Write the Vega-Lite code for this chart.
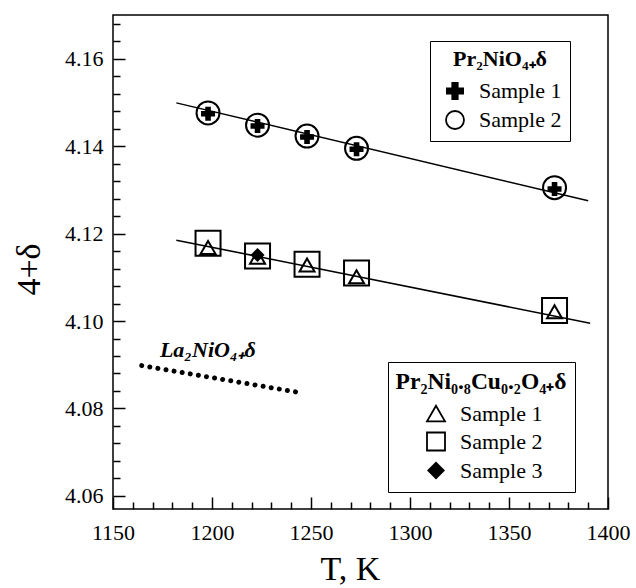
{
  "$schema": "https://vega.github.io/schema/vega-lite/v6.json",
  "width": 495,
  "height": 494,
  "autosize": {"type": "none"},
  "padding": {"left": 113, "top": 15, "right": 28, "bottom": 79},
  "background": "white",
  "config": {
    "view": {"stroke": "black", "strokeWidth": 1.5},
    "font": "Liberation Serif",
    "axis": {
      "grid": false,
      "domain": false,
      "labelFont": "Liberation Serif",
      "labelFontSize": 22,
      "labelColor": "black",
      "titleFont": "Liberation Serif",
      "titleFontSize": 34,
      "titleFontWeight": "normal",
      "titleColor": "black",
      "tickColor": "black",
      "tickWidth": 1.5
    },
    "legend": {
      "titleFont": "Liberation Serif",
      "titleFontSize": 22,
      "titleFontWeight": "bold",
      "titleColor": "black",
      "titleAnchor": "middle",
      "labelFont": "Liberation Serif",
      "labelFontSize": 22,
      "labelColor": "black",
      "symbolSize": 324,
      "symbolStrokeWidth": 1.8,
      "symbolOpacity": 1,
      "strokeColor": "black",
      "fillColor": "white",
      "padding": 8,
      "rowPadding": 3,
      "titlePadding": 9,
      "labelOffset": 13,
      "symbolOffset": 6
    }
  },
  "layer": [
    {
      "data": {"values": [
        {"g": "Pr2NiO4", "T": 1182, "d": 4.1499},
        {"g": "Pr2NiO4", "T": 1390, "d": 4.1275},
        {"g": "Pr2Ni0.8Cu0.2O4", "T": 1182, "d": 4.1185},
        {"g": "Pr2Ni0.8Cu0.2O4", "T": 1391, "d": 4.0995}
      ]},
      "mark": {"type": "line", "color": "black", "strokeWidth": 1.5},
      "encoding": {
        "x": {"field": "T", "type": "quantitative", "scale": {"domain": [1150, 1400], "nice": false, "zero": false},
          "axis": {"orient": "bottom", "title": "T, K", "titlePadding": 9, "titleX": 237, "values": [1150, 1200, 1250, 1300, 1350, 1400], "format": "d", "tickSize": -12, "labelPadding": 25, "labelFlush": false}},
        "y": {"field": "d", "type": "quantitative", "scale": {"domain": [4.057, 4.17], "nice": false, "zero": false},
          "axis": {"orient": "left", "title": "4+δ", "titlePadding": 18, "titleY": 254, "values": [4.06, 4.08, 4.1, 4.12, 4.14, 4.16], "format": ".2f", "tickSize": -12, "labelPadding": 22, "labelFlush": false}},
        "detail": {"field": "g"}
      }
    },
    {
      "data": {"values": [
        {"T": 1164.5, "d": 4.0898},
        {"T": 1246, "d": 4.0835}
      ]},
      "mark": {"type": "line", "color": "black", "strokeWidth": 5, "strokeDash": [0.01, 8.2], "strokeCap": "round"},
      "encoding": {
        "x": {"field": "T", "type": "quantitative", "scale": {"domain": [1150, 1400], "nice": false, "zero": false},
          "axis": {"orient": "bottom", "title": null, "labels": false, "values": [1160,1170,1180,1190,1210,1220,1230,1240,1260,1270,1280,1290,1310,1320,1330,1340,1360,1370,1380,1390], "tickSize": -7}},
        "y": {"field": "d", "type": "quantitative", "scale": {"domain": [4.057, 4.17], "nice": false, "zero": false},
          "axis": {"orient": "left", "title": null, "labels": false, "values": [4.064,4.068,4.072,4.076,4.084,4.088,4.092,4.096,4.104,4.108,4.112,4.116,4.124,4.128,4.132,4.136,4.144,4.148,4.152,4.156,4.164,4.168], "tickSize": -7}}
      }
    },
    {
      "data": {"values": [
        {"T": 1173.7, "d": 4.0918, "label": "La₂NiO₄₊δ"}
      ]},
      "mark": {"type": "text", "font": "Liberation Serif", "fontSize": 22, "fontWeight": "bold", "fontStyle": "italic", "align": "left", "baseline": "alphabetic", "color": "black"},
      "encoding": {
        "x": {"field": "T", "type": "quantitative", "scale": {"domain": [1150, 1400], "nice": false, "zero": false}, "axis": null},
        "y": {"field": "d", "type": "quantitative", "scale": {"domain": [4.057, 4.17], "nice": false, "zero": false}, "axis": null},
        "text": {"field": "label"}
      }
    },
    {
      "data": {"values": [
        {"sample": "Sample 2", "T": 1198, "d": 4.1476},
        {"sample": "Sample 2", "T": 1223, "d": 4.1448},
        {"sample": "Sample 2", "T": 1248, "d": 4.1423},
        {"sample": "Sample 2", "T": 1273, "d": 4.1395},
        {"sample": "Sample 2", "T": 1373, "d": 4.1305},
        {"sample": "Sample 1", "T": 1198, "d": 4.1474},
        {"sample": "Sample 1", "T": 1223, "d": 4.1446},
        {"sample": "Sample 1", "T": 1248, "d": 4.1421},
        {"sample": "Sample 1", "T": 1273, "d": 4.1393},
        {"sample": "Sample 1", "T": 1373, "d": 4.1302}
      ]},
      "mark": {"type": "point", "filled": true, "opacity": 1, "strokeWidth": 2},
      "encoding": {
        "x": {"field": "T", "type": "quantitative", "scale": {"domain": [1150, 1400], "nice": false, "zero": false}, "axis": null},
        "y": {"field": "d", "type": "quantitative", "scale": {"domain": [4.057, 4.17], "nice": false, "zero": false}, "axis": null},
        "shape": {"field": "sample", "type": "nominal", "scale": {"domain": ["Sample 1", "Sample 2"], "range": ["cross", "circle"]},
          "legend": {"title": "Pr₂NiO₄₊δ", "orient": "none", "legendX": 317, "legendY": 26}},
        "fill": {"field": "sample", "type": "nominal", "scale": {"domain": ["Sample 1", "Sample 2"], "range": ["black", "transparent"]},
          "legend": {"title": "Pr₂NiO₄₊δ", "orient": "none", "legendX": 317, "legendY": 26}},
        "stroke": {"field": "sample", "type": "nominal", "scale": {"domain": ["Sample 1", "Sample 2"], "range": ["transparent", "black"]},
          "legend": {"title": "Pr₂NiO₄₊δ", "orient": "none", "legendX": 317, "legendY": 26}},
        "size": {"condition": {"test": "datum.sample === 'Sample 1'", "value": 196}, "value": 529}
      }
    },
    {
      "data": {"values": [
        {"sample": "Sample 2", "T": 1198, "d": 4.1178},
        {"sample": "Sample 2", "T": 1223, "d": 4.1149},
        {"sample": "Sample 2", "T": 1248, "d": 4.1130},
        {"sample": "Sample 2", "T": 1273, "d": 4.1110},
        {"sample": "Sample 2", "T": 1373, "d": 4.1024},
        {"sample": "Sample 3", "T": 1223, "d": 4.1151},
        {"sample": "Sample 1", "T": 1198, "d": 4.1168},
        {"sample": "Sample 1", "T": 1223, "d": 4.1146},
        {"sample": "Sample 1", "T": 1248, "d": 4.1128},
        {"sample": "Sample 1", "T": 1273, "d": 4.1101},
        {"sample": "Sample 1", "T": 1373, "d": 4.1021}
      ]},
      "mark": {"type": "point", "filled": true, "opacity": 1, "strokeWidth": 2},
      "encoding": {
        "x": {"field": "T", "type": "quantitative", "scale": {"domain": [1150, 1400], "nice": false, "zero": false}, "axis": null},
        "y": {"field": "d", "type": "quantitative", "scale": {"domain": [4.057, 4.17], "nice": false, "zero": false}, "axis": null},
        "shape": {"field": "sample", "type": "nominal", "scale": {"domain": ["Sample 1", "Sample 2", "Sample 3"], "range": ["triangle-up", "square", "diamond"]},
          "legend": {"title": "Pr₂Ni₀.₈Cu₀.₂O₄₊δ", "titleFontSize": 23.5, "orient": "none", "legendX": 275, "legendY": 347}},
        "fill": {"field": "sample", "type": "nominal", "scale": {"domain": ["Sample 1", "Sample 2", "Sample 3"], "range": ["transparent", "transparent", "black"]},
          "legend": {"title": "Pr₂Ni₀.₈Cu₀.₂O₄₊δ", "titleFontSize": 23.5, "orient": "none", "legendX": 275, "legendY": 347}},
        "stroke": {"field": "sample", "type": "nominal", "scale": {"domain": ["Sample 1", "Sample 2", "Sample 3"], "range": ["black", "black", "transparent"]},
          "legend": {"title": "Pr₂Ni₀.₈Cu₀.₂O₄₊δ", "titleFontSize": 23.5, "orient": "none", "legendX": 275, "legendY": 347}},
        "size": {"condition": [{"test": "datum.sample === 'Sample 2'", "value": 625}, {"test": "datum.sample === 'Sample 3'", "value": 196}], "value": 225}
      }
    }
  ],
  "resolve": {
    "scale": {"shape": "independent", "fill": "independent", "stroke": "independent"},
    "axis": {"x": "independent", "y": "independent"}
  }
}
